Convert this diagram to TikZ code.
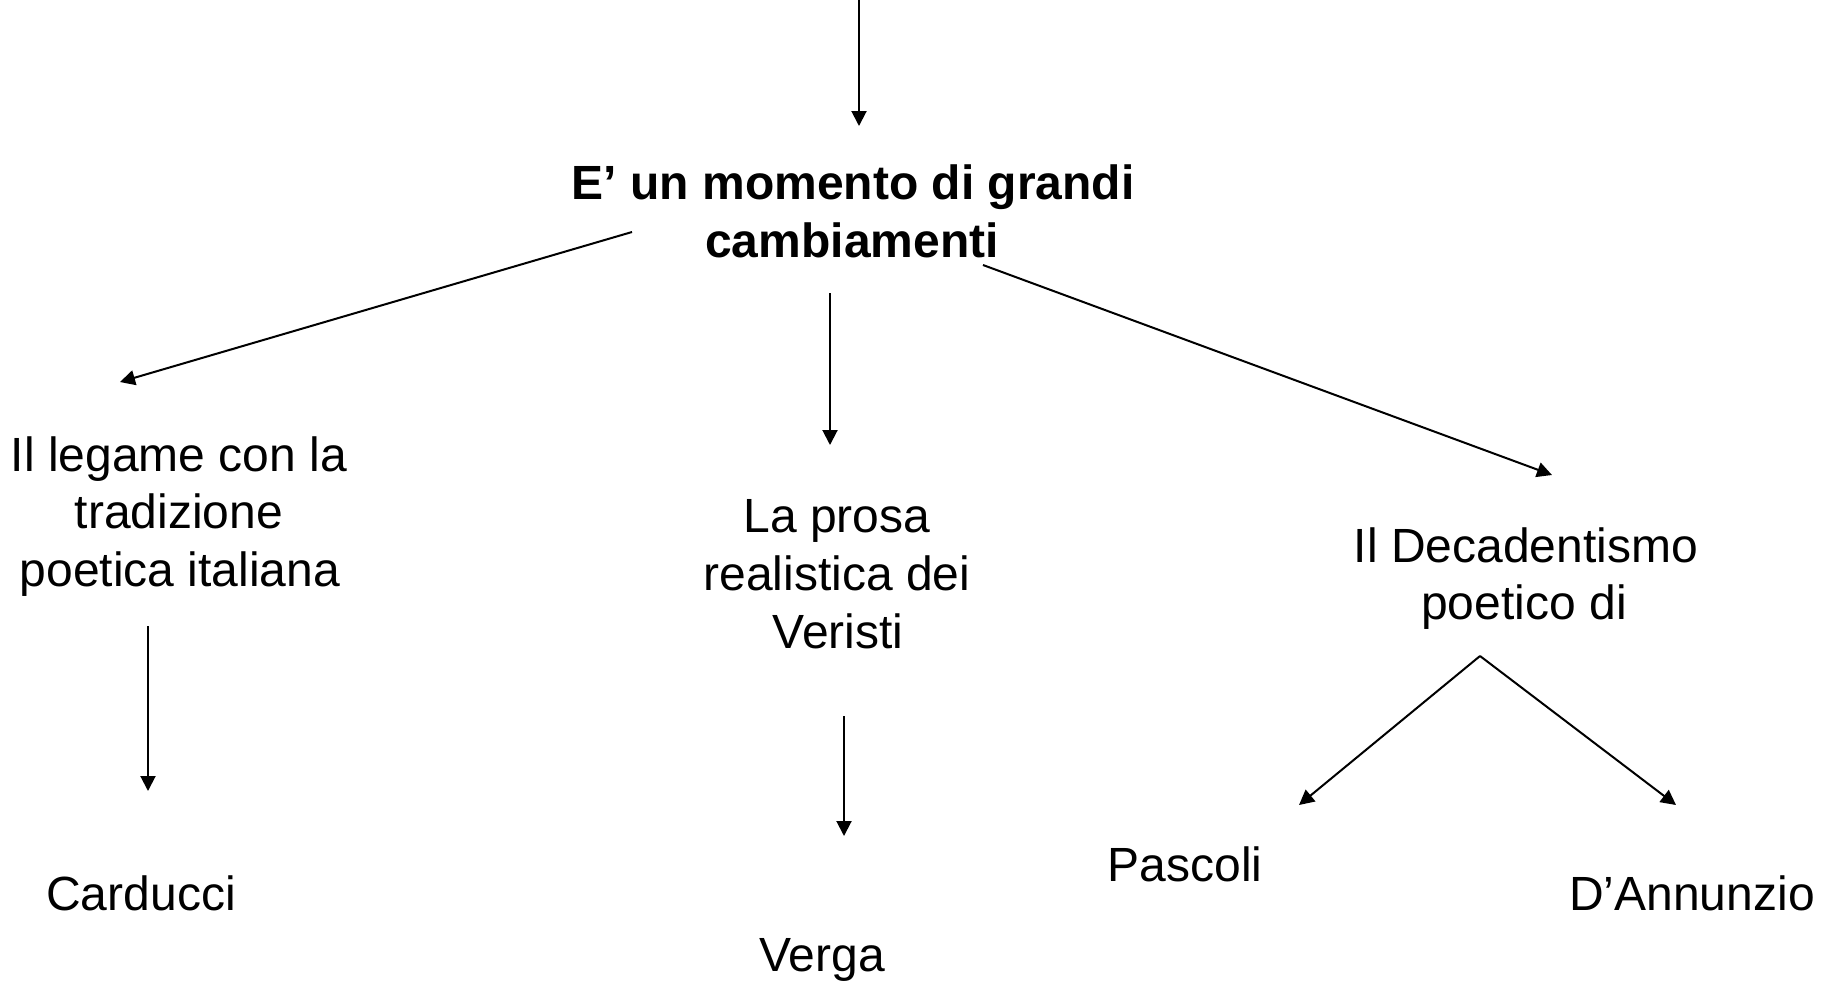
\documentclass[tikz,border=0pt]{standalone}
\usepackage{fontspec}
\setmainfont{Liberation Sans}
\usetikzlibrary{arrows.meta}
\begin{document}
\begin{tikzpicture}[x=1pt,y=-1pt,
  txt/.style={anchor=base,inner sep=0pt,font=\fontsize{48}{57.5}\selectfont},
  ttl/.style={txt,font=\fontsize{48}{57.5}\selectfont\bfseries},
  arr/.style={line width=2pt,-{Triangle[length=15pt,width=15pt]}}]
\useasboundingbox (0,0) rectangle (1825,980);
% title
\node[ttl] (title1) at (853,199) {E’ un momento di grandi};
\node[ttl] (title2) at (852,257) {cambiamenti};
% left branch
\node[txt] (leg1) at (179,471) {Il legame con la};
\node[txt] (leg2) at (179,528.5) {tradizione};
\node[txt] (leg3) at (180,586) {poetica italiana};
\node[txt] (carducci) at (141,910) {Carducci};
% middle branch
\node[txt] (pro1) at (837,532) {La prosa};
\node[txt] (pro2) at (837,590) {realistica dei};
\node[txt] (pro3) at (838,648) {Veristi};
\node[txt] (verga) at (822,971) {Verga};
% right branch
\node[txt] (dec1) at (1526,562) {Il Decadentismo};
\node[txt] (dec2) at (1524,619) {poetico di};
\node[txt] (pascoli) at (1185,881) {Pascoli};
\node[txt] (dannunzio) at (1692,910) {D’Annunzio};
% connector ends
\coordinate (topS) at (859,-2);
\coordinate (topE) at (859,126);
\coordinate (lS) at (632,232);
\coordinate (lE) at (120,382);
\coordinate (mS) at (830,293);
\coordinate (mE) at (830,445);
\coordinate (rS) at (983,265);
\coordinate (rE) at (1552,475);
\coordinate (ldS) at (148,626);
\coordinate (ldE) at (148,791);
\coordinate (mdS) at (844,716);
\coordinate (mdE) at (844,836);
\coordinate (apex) at (1480,656);
\coordinate (fL) at (1299,805);
\coordinate (fR) at (1676,805);
% connectors
\draw[arr] (topS) -- (topE);
\draw[arr] (lS) -- (lE);
\draw[arr] (mS) -- (mE);
\draw[arr] (rS) -- (rE);
\draw[arr] (ldS) -- (ldE);
\draw[arr] (mdS) -- (mdE);
\draw[arr] (apex) -- (fL);
\draw[arr] (apex) -- (fR);
\end{tikzpicture}
\end{document}
